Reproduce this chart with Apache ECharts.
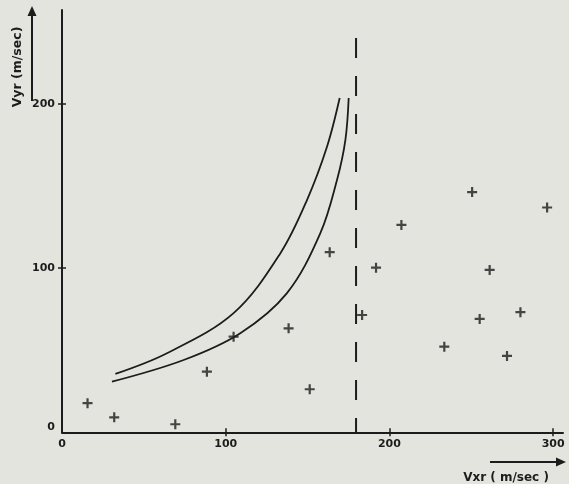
<!DOCTYPE html>
<html><head><meta charset="utf-8">
<script src="https://cdn.jsdelivr.net/npm/echarts@6/dist/echarts.min.js"></script>
<style>html,body{margin:0;padding:0;background:#e4e4df;}#c{width:569px;height:484px;}</style>
</head><body><div id="c"></div>
<script>
const xTicks = [0, 100, 200, 300];
const yTicks = [0, 100, 200];
const xMax = 306, yMax = 257;
const measuredPoints = [
  [15.6,17.7],[31.9,9.1],[69.2,4.9],[88.5,36.9],[104.8,58.2],[138.4,63.3],
  [151.3,26.2],[163.5,109.6],[183.3,71.4],[191.8,100.2],[207.3,126.2],
  [233.5,52.1],[250.5,146.2],[255.1,69],[261.2,98.8],[271.8,46.5],
  [280,73.1],[296.3,136.8]
];
const upperCurve = [[32.6,35.5],[64.1,48.1],[104.8,72.5],[133.4,109],[149.7,141.5],[161.9,173.9],[169.6,203.4]];
const lowerCurve = [[30.5,30.8],[74.3,44],[108.9,60.3],[137.4,84.7],[157.8,121.2],[168,153.7],[173.1,178],[175.1,203.4]];
const limitX = 179.6;
const limitTop = 240;
const xName = 'Vxr ( m/sec )';
const yName = 'Vyr (m/sec)';

const ink = '#1c1c1c';
const font = {fontFamily: 'DejaVu Sans', fontWeight: 'bold', fontSize: 11, color: ink};
const plus = 'path://M3.9,0H6.1V3.9H10V6.1H6.1V10H3.9V6.1H0V3.9H3.9Z';

function xAx(inside, show){
  return {type:'value', min:0, max:xMax, interval:100, position:'bottom',
    axisLine:{show:show, onZero:false, lineStyle:{color:ink, width:2}},
    axisTick:{show:true, inside:inside, length:4, lineStyle:{color:ink, width:1.5},
      customValues: xTicks.slice(1)},
    axisLabel:{show:show, margin:6, ...font, customValues: xTicks},
    splitLine:{show:false}};
}
function yAx(inside, show){
  return {type:'value', min:0, max:yMax, interval:100, position:'left',
    axisLine:{show:show, onZero:false, lineStyle:{color:ink, width:2}},
    axisTick:{show:true, inside:inside, length:4, lineStyle:{color:ink, width:1.5},
      customValues: yTicks.slice(1)},
    axisLabel:{show:show, margin:7, ...font, customValues: yTicks,
      formatter: v => v === 0 ? '{z|0}' : String(v),
      rich:{z:{...font, padding:[0,0,11,0]}}},
    splitLine:{show:false}};
}

const chart = echarts.init(document.getElementById('c'));
chart.setOption({
  backgroundColor:'#e4e4df',
  animation:false,
  grid:{left:62, top:10, width:501, bottom:51.7, containLabel:false},
  xAxis:[xAx(false,true), xAx(true,false)],
  yAxis:[yAx(false,true), yAx(true,false)],
  series:[
    {type:'scatter', data:measuredPoints, symbol:plus, symbolSize:10,
     itemStyle:{color:ink}, xAxisIndex:0, yAxisIndex:0},
    {type:'line', data:upperCurve, smooth:0.35, showSymbol:false,
     lineStyle:{color:ink, width:1.8}},
    {type:'line', data:lowerCurve, smooth:0.35, showSymbol:false,
     lineStyle:{color:ink, width:1.8}},
    {type:'line', data:[[limitX,limitTop],[limitX,0]], showSymbol:false,
     lineStyle:{color:ink, width:2, type:[20,18]}}
  ],
  graphic:[
    {type:'line', shape:{x1:32, y1:101, x2:32, y2:14}, style:{stroke:ink, lineWidth:2}},
    {type:'polygon', shape:{points:[[27.5,16],[36.5,16],[32,6]]}, style:{fill:ink}},
    {type:'text', x:18, y:67, rotation:Math.PI/2, style:{text:yName, ...font, fill:ink, fontSize:12.5, align:'center', verticalAlign:'middle'}},
    {type:'line', shape:{x1:490, y1:462, x2:558, y2:462}, style:{stroke:ink, lineWidth:2}},
    {type:'polygon', shape:{points:[[556,457.5],[556,466.5],[566,462]]}, style:{fill:ink}},
    {type:'text', x:506, y:478, style:{text:xName, ...font, fill:ink, fontSize:12, align:'center', verticalAlign:'middle'}}
  ]
});
</script></body></html>
